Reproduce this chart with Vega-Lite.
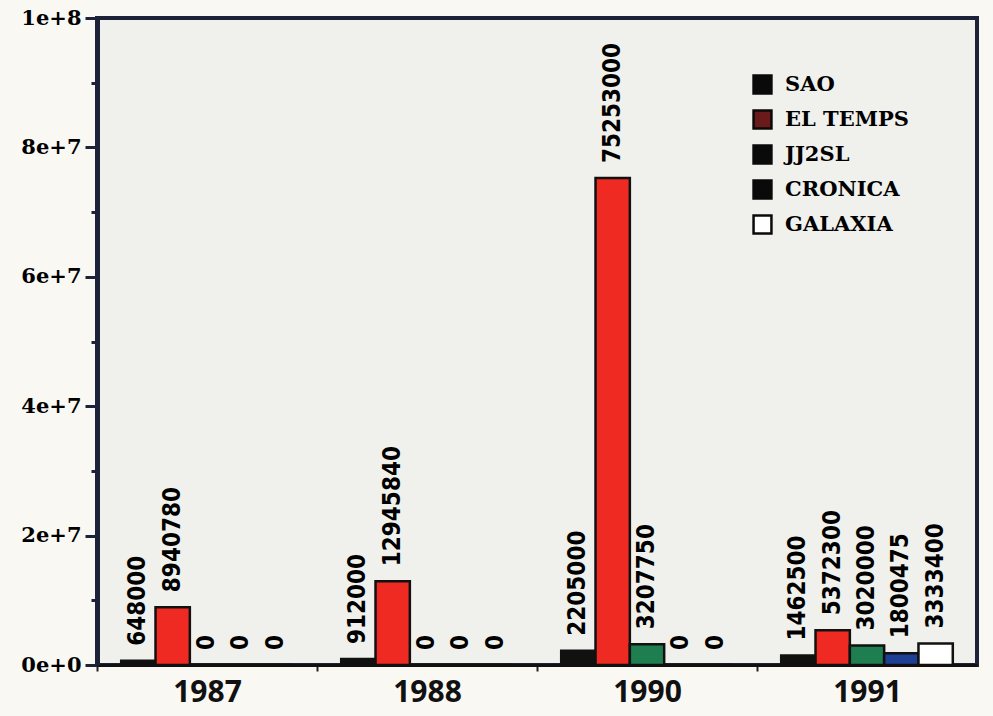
{
  "$schema": "https://vega.github.io/schema/vega-lite/v6.json",
  "width": 880,
  "height": 647,
  "autosize": {"type": "none"},
  "padding": {"left": 97, "top": 18, "right": 16, "bottom": 51},
  "background": "#f9f8f3",
  "config": {"view": {"fill": "#f0f0ec", "stroke": "#1e2238", "strokeWidth": 4}},
  "data": {"values": [
    {"year": "1987", "paper": "SAO", "value": 648000},
    {"year": "1987", "paper": "EL TEMPS", "value": 8940780},
    {"year": "1987", "paper": "JJ2SL", "value": 0},
    {"year": "1987", "paper": "CRONICA", "value": 0},
    {"year": "1987", "paper": "GALAXIA", "value": 0},
    {"year": "1988", "paper": "SAO", "value": 912000},
    {"year": "1988", "paper": "EL TEMPS", "value": 12945840},
    {"year": "1988", "paper": "JJ2SL", "value": 0},
    {"year": "1988", "paper": "CRONICA", "value": 0},
    {"year": "1988", "paper": "GALAXIA", "value": 0},
    {"year": "1990", "paper": "SAO", "value": 2205000},
    {"year": "1990", "paper": "EL TEMPS", "value": 75253000},
    {"year": "1990", "paper": "JJ2SL", "value": 3207750},
    {"year": "1990", "paper": "CRONICA", "value": 0},
    {"year": "1990", "paper": "GALAXIA", "value": 0},
    {"year": "1991", "paper": "SAO", "value": 1462500},
    {"year": "1991", "paper": "EL TEMPS", "value": 5372300},
    {"year": "1991", "paper": "JJ2SL", "value": 3020000},
    {"year": "1991", "paper": "CRONICA", "value": 1800475},
    {"year": "1991", "paper": "GALAXIA", "value": 3333400}
  ]},
  "encoding": {
    "x": {
      "field": "year", "type": "nominal",
      "scale": {"paddingInner": 0.22, "paddingOuter": 0.11},
      "axis": {
        "title": null, "labelAngle": 0,
        "domainColor": "#111111", "domainWidth": 3,
        "tickColor": "#222222", "tickWidth": 2, "tickSize": 6,
        "tickOffset": -110, "labelOffset": 110,
        "labelFont": "Open Sans", "labelFontWeight": 700, "labelFontSize": 30,
        "labelColor": "#111111", "labelPadding": 6
      }
    },
    "xOffset": {
      "field": "paper", "type": "nominal",
      "scale": {"domain": ["SAO", "EL TEMPS", "JJ2SL", "CRONICA", "GALAXIA"], "paddingInner": 0, "paddingOuter": 0}
    },
    "y": {
      "field": "value", "type": "quantitative",
      "scale": {"domain": [0, 100000000], "nice": false, "zero": true},
      "axis": {
        "title": null, "grid": false,
        "values": [0, 10000000, 20000000, 30000000, 40000000, 50000000, 60000000, 70000000, 80000000, 90000000, 100000000],
        "labelExpr": "datum.value % 20000000 === 0 ? format(datum.value, '.0e') : ''",
        "tickSize": {"condition": {"test": "datum.value % 20000000 === 0", "value": 12}, "value": 6},
        "tickWidth": 3, "tickColor": "#1e2238",
        "domainColor": "#1e2238", "domainWidth": 5,
        "labelFont": "DejaVu Serif", "labelFontWeight": "bold", "labelFontSize": 21,
        "labelColor": "#000000", "labelPadding": 4
      }
    }
  },
  "layer": [
    {
      "mark": {"type": "square", "size": 0, "strokeWidth": 0},
      "encoding": {
        "color": {
          "field": "paper", "type": "nominal",
          "scale": {"domain": ["SAO", "EL TEMPS", "JJ2SL", "CRONICA", "GALAXIA"], "range": ["#0a0a0a", "#6b1a1c", "#0a0a0a", "#0a0a0a", "#ffffff"]},
          "legend": {
            "title": null, "orient": "none", "legendX": 655, "legendY": 56,
            "symbolType": "square", "symbolSize": 320, "symbolOpacity": 1,
            "symbolStrokeColor": "#0a0a0a", "symbolStrokeWidth": 2.5,
            "labelFont": "DejaVu Serif", "labelFontWeight": "bold", "labelFontSize": 21,
            "labelColor": "#000000", "rowPadding": 6, "labelOffset": 12
          }
        }
      }
    },
    {
      "mark": {"type": "bar", "stroke": "#111111", "strokeWidth": 2.5},
      "encoding": {
        "fill": {
          "field": "paper", "type": "nominal",
          "scale": {"domain": ["SAO", "EL TEMPS", "JJ2SL", "CRONICA", "GALAXIA"], "range": ["#111111", "#ee2a22", "#1e7e50", "#1d3f94", "#ffffff"]},
          "legend": null
        }
      }
    },
    {
      "mark": {"type": "text", "angle": 270, "align": "left", "baseline": "middle", "dx": 15,
               "font": "DejaVu Sans Condensed", "fontSize": 24, "fontWeight": "bold", "color": "#000000"},
      "encoding": {"text": {"field": "value", "type": "quantitative", "format": "d"}}
    }
  ]
}
